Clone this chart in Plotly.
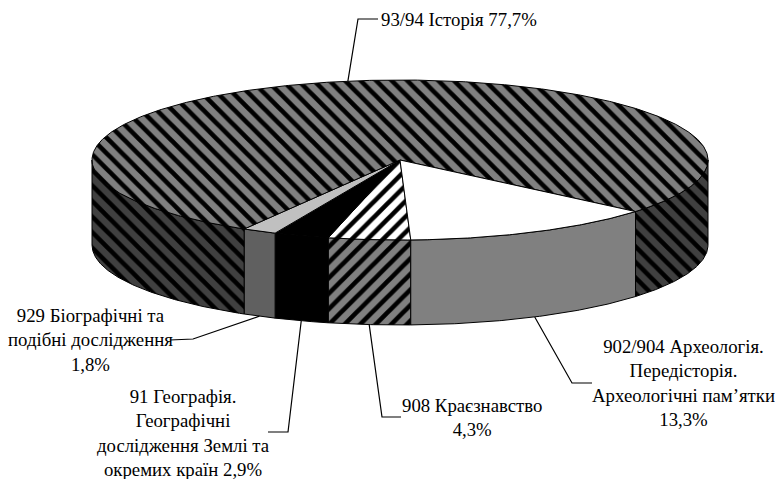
import numpy as np
import plotly.graph_objects as go

# ---- data ----
categories = [
    "908 Краєзнавство",
    "91 Географія. Географічні дослідження Землі та окремих країн",
    "929 Біографічні та подібні дослідження",
    "93/94 Історія",
    "902/904 Археологія. Передісторія. Археологічні пам’ятки",
]
label_lines = [
    ["908 Краєзнавство"],
    ["91 Географія.", "Географічні", "дослідження Землі та", "окремих країн"],
    ["929 Біографічні та", "подібні дослідження"],
    ["93/94 Історія"],
    ["902/904 Археологія.", "Передісторія.", "Археологічні пам’ятки"],
]
values = [4.3, 2.9, 1.8, 77.7, 13.3]
# value placed on same line (True) or on a new line (False)
value_inline = [False, True, False, True, False]

# ---- styles ----
top_styles = [
    dict(bg="#ffffff", fg="#000000", shape="/"),
    dict(bg="#000000", fg=None, shape=None),
    dict(bg="#c0c0c0", fg=None, shape=None),
    dict(bg="#808080", fg="#000000", shape="\\"),
    dict(bg="#ffffff", fg=None, shape=None),
]
side_styles = [
    dict(bg="#808080", fg="#000000", shape="/"),
    dict(bg="#000000", fg=None, shape=None),
    dict(bg="#606060", fg=None, shape=None),
    dict(bg="#404040", fg="#000000", shape="\\"),
    dict(bg="#808080", fg=None, shape=None),
]
# label placement (layout): anchor x, y, xanchor, elbow point, end point
label_layout = [
    dict(x=472, y=417, xa="center", elbow=(382, 417), end=(401, 417)),
    dict(x=183, y=433, xa="center", elbow=(288, 432), end=(268, 432)),
    dict(x=90, y=340, xa="center", elbow=(193, 339), end=(170, 340)),
    dict(x=379, y=19, xa="left", elbow=(358, 19), end=(378, 19)),
    dict(x=683, y=383, xa="center", elbow=(572, 383), end=(592, 383)),
]

W, H = 775, 479
CX, CY, RX, RY, DEPTH = 400.0, 160.0, 308.0, 80.0, 85.0
START = 88.0  # degrees, screen coords (y down), clockwise
FONT = "Liberation Serif"
FONT_SIZE = 18.8


def pt(theta_deg, dy=0.0):
    t = np.radians(theta_deg)
    return CX + RX * np.cos(t), CY + RY * np.sin(t) + dy


def arc(t0, t1, n=None, dy=0.0):
    if n is None:
        n = max(int(abs(t1 - t0) * 2), 4)
    ts = np.linspace(t0, t1, n)
    xs, ys = pt(ts, dy)
    return list(xs), list(ys)


def fill_kwargs(st):
    kw = dict(fill="toself", fillcolor=st["bg"])
    if st["shape"]:
        kw["fillpattern"] = dict(shape=st["shape"], fgcolor=st["fg"], bgcolor=st["bg"],
                                 size=11, solidity=0.42, fillmode="replace")
    return kw


total = sum(values)
angles = []
a = START
for v in values:
    span = v / total * 360.0
    angles.append((a, a + span))
    a += span

fig = go.Figure()
line = dict(color="black", width=1)

# sides (front half only)
for (t0, t1), st in zip(angles, side_styles):
    for lo, hi in [(0, 180), (360, 540)]:
        a0, a1 = max(t0, lo), min(t1, hi)
        if a1 - a0 <= 0.01:
            continue
        xt, yt = arc(a0, a1)
        xb, yb = arc(a0, a1, dy=DEPTH)
        xs = xt + xb[::-1] + [xt[0]]
        ys = yt + yb[::-1] + [yt[0]]
        fig.add_trace(go.Scatter(x=xs, y=ys, mode="lines", line=line,
                                 hoverinfo="skip", showlegend=False, **fill_kwargs(st)))

# top faces
for (t0, t1), st in zip(angles, top_styles):
    xa, ya = arc(t0, t1)
    xs = [CX] + xa + [CX]
    ys = [CY] + ya + [CY]
    fig.add_trace(go.Scatter(x=xs, y=ys, mode="lines", line=line,
                             hoverinfo="skip", showlegend=False, **fill_kwargs(st)))

# labels and leader lines
annotations = []
for (t0, t1), v, lines, inline, lay in zip(angles, values, label_lines, value_inline, label_layout):
    mid = (t0 + t1) / 2.0
    m = mid % 360
    if 0 <= m <= 180:
        sx, sy = pt(mid, DEPTH)
    else:
        sx, sy = pt(mid)
    vtxt = f"{v:.1f}".replace(".", ",") + "%"
    ls = list(lines)
    if inline:
        ls[-1] = ls[-1] + " " + vtxt
    else:
        ls.append(vtxt)
    fig.add_trace(go.Scatter(x=[sx, lay["elbow"][0], lay["end"][0]],
                             y=[sy, lay["elbow"][1], lay["end"][1]],
                             mode="lines", line=dict(color="black", width=1.2),
                             hoverinfo="skip", showlegend=False))
    annotations.append(dict(x=lay["x"], y=lay["y"], xref="x", yref="y",
                            text="<br>".join(ls), showarrow=False,
                            xanchor=lay["xa"], yanchor="middle", align="center",
                            font=dict(family=FONT, size=FONT_SIZE, color="black")))

fig.update_layout(
    width=W, height=H,
    margin=dict(l=0, r=0, t=0, b=0),
    paper_bgcolor="white", plot_bgcolor="white",
    xaxis=dict(range=[0, W], visible=False, fixedrange=True),
    yaxis=dict(range=[H, 0], visible=False, fixedrange=True),
    annotations=annotations,
    font=dict(family=FONT),
)

fig.write_html("out.html", config=dict(displayModeBar=False),
               post_script="document.body.style.margin='0';document.body.style.overflow='hidden';")
